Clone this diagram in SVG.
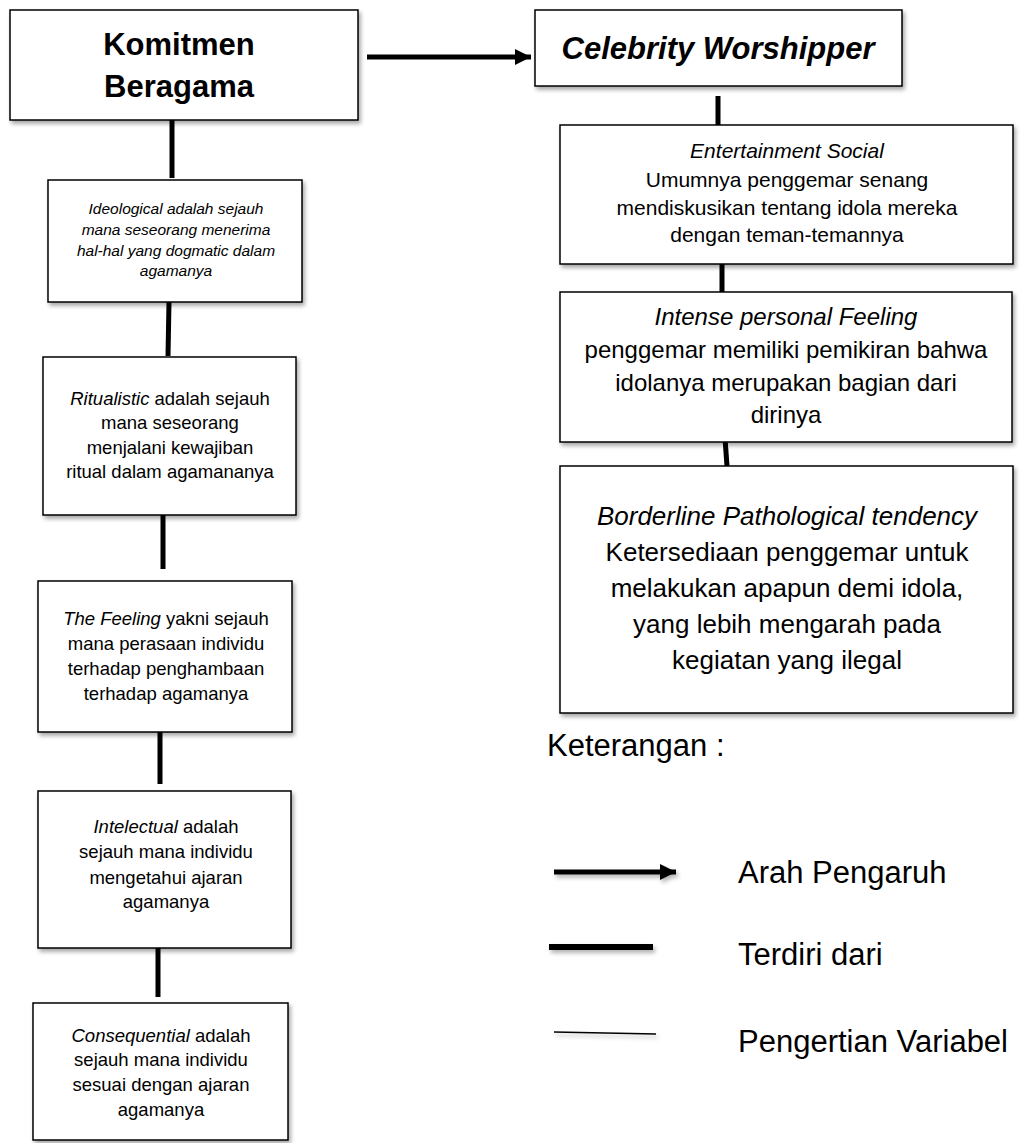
<svg xmlns="http://www.w3.org/2000/svg" width="1020" height="1143" viewBox="0 0 1020 1143">
<defs>
<filter id="sh" x="-5%" y="-5%" width="115%" height="120%">
<feDropShadow dx="2" dy="3" stdDeviation="2" flood-color="#000" flood-opacity="0.35"/>
</filter>
<filter id="shl" filterUnits="userSpaceOnUse" x="0" y="0" width="1020" height="1143">
<feDropShadow dx="2" dy="3" stdDeviation="2" flood-color="#000" flood-opacity="0.3"/>
</filter>
<marker id="ah" markerUnits="userSpaceOnUse" markerWidth="18" markerHeight="16" refX="16" refY="8" orient="auto">
<path d="M0,0 L16,8 L0,16 Z" fill="#000"/>
</marker>
<style>
.box{fill:#fff;stroke:#000;stroke-width:1.5;filter:url(#sh)}
.conn{stroke:#000;stroke-width:5;fill:none;stroke-linecap:butt}
text{font-family:"Liberation Sans",Arial,sans-serif;fill:#000;text-anchor:middle}
.h{font-size:31px;font-weight:bold}
.s15{font-size:15.5px;font-style:italic}
.s18{font-size:18.5px}
.e{font-size:21px}
.f{font-size:24px}
.g{font-size:26px}
.lg{font-size:31px;text-anchor:start}
.i{font-style:italic}
</style>
</defs>

<g id="connectors">
<line class="conn" x1="367" y1="57" x2="531" y2="57" marker-end="url(#ah)"/>
<line class="conn" x1="172" y1="120" x2="172" y2="178"/>
<line class="conn" x1="169" y1="302" x2="168" y2="356"/>
<line class="conn" x1="163" y1="515" x2="163" y2="569"/>
<line class="conn" x1="160" y1="732" x2="160" y2="784"/>
<line class="conn" x1="158" y1="944" x2="158" y2="997"/>
<line class="conn" x1="718" y1="96" x2="718" y2="125"/>
<line class="conn" x1="722" y1="264" x2="722" y2="292"/>
<line class="conn" x1="725" y1="438" x2="727" y2="466"/>
</g>

<g id="komitmen">
<rect class="box" x="10" y="10" width="348" height="110"/>
<text class="h" x="179" y="55">Komitmen</text>
<text class="h" x="179" y="97">Beragama</text>
</g>

<g id="celebrity">
<rect class="box" x="535" y="10" width="367" height="76"/>
<text class="h i" x="718" y="59">Celebrity Worshipper</text>
</g>

<g id="ideological">
<rect class="box" x="48" y="180" width="254" height="122"/>
<text class="s15" x="176" y="214">Ideological adalah sejauh</text>
<text class="s15" x="176" y="235">mana seseorang menerima</text>
<text class="s15" x="176" y="256">hal-hal yang dogmatic dalam</text>
<text class="s15" x="176" y="276">agamanya</text>
</g>

<g id="ritualistic">
<rect class="box" x="43" y="357" width="253" height="158"/>
<text class="s18" x="170" y="405"><tspan class="i">Ritualistic</tspan> adalah sejauh</text>
<text class="s18" x="170" y="429">mana seseorang</text>
<text class="s18" x="170" y="454">menjalani kewajiban</text>
<text class="s18" x="170" y="478">ritual dalam agamananya</text>
</g>

<g id="feeling">
<rect class="box" x="38" y="581" width="254" height="151"/>
<text class="s18" x="166" y="625"><tspan class="i">The Feeling</tspan> yakni sejauh</text>
<text class="s18" x="166" y="650">mana perasaan individu</text>
<text class="s18" x="166" y="675">terhadap penghambaan</text>
<text class="s18" x="166" y="700">terhadap agamanya</text>
</g>

<g id="intelectual">
<rect class="box" x="38" y="791" width="253" height="157"/>
<text class="s18" x="166" y="833"><tspan class="i">Intelectual</tspan> adalah</text>
<text class="s18" x="166" y="858">sejauh mana individu</text>
<text class="s18" x="166" y="884">mengetahui ajaran</text>
<text class="s18" x="166" y="908">agamanya</text>
</g>

<g id="consequential">
<rect class="box" x="33" y="1003" width="255" height="137"/>
<text class="s18" x="161" y="1042"><tspan class="i">Consequential</tspan> adalah</text>
<text class="s18" x="161" y="1066">sejauh mana individu</text>
<text class="s18" x="161" y="1091">sesuai dengan ajaran</text>
<text class="s18" x="161" y="1116">agamanya</text>
</g>

<g id="entertainment">
<rect class="box" x="560" y="125" width="453" height="139"/>
<text class="e i" x="787" y="158">Entertainment Social</text>
<text class="e" x="787" y="187">Umumnya penggemar senang</text>
<text class="e" x="787" y="215">mendiskusikan tentang idola mereka</text>
<text class="e" x="787" y="242">dengan teman-temannya</text>
</g>

<g id="intense">
<rect class="box" x="560" y="292" width="452" height="150"/>
<text class="f i" x="786" y="325">Intense personal Feeling</text>
<text class="f" x="786" y="358">penggemar memiliki pemikiran bahwa</text>
<text class="f" x="786" y="391">idolanya merupakan bagian dari</text>
<text class="f" x="786" y="423">dirinya</text>
</g>

<g id="borderline">
<rect class="box" x="560" y="466" width="453" height="247"/>
<text class="g i" x="787" y="525">Borderline Pathological tendency</text>
<text class="g" x="787" y="561">Ketersediaan penggemar untuk</text>
<text class="g" x="787" y="597">melakukan apapun demi idola,</text>
<text class="g" x="787" y="633">yang lebih mengarah pada</text>
<text class="g" x="787" y="669">kegiatan yang ilegal</text>
</g>

<g id="legend">
<text class="lg" x="547" y="756">Keterangan :</text>
<line x1="554" y1="872" x2="676" y2="872" stroke="#000" stroke-width="5" marker-end="url(#ah)" filter="url(#shl)"/>
<text class="lg" x="738" y="883">Arah Pengaruh</text>
<line x1="549" y1="947" x2="653" y2="947" stroke="#000" stroke-width="6" filter="url(#shl)"/>
<text class="lg" x="738" y="965">Terdiri dari</text>
<line x1="554" y1="1032" x2="656" y2="1034" stroke="#000" stroke-width="1.5" filter="url(#shl)"/>
<text class="lg" x="738" y="1052">Pengertian Variabel</text>
</g>
</svg>
